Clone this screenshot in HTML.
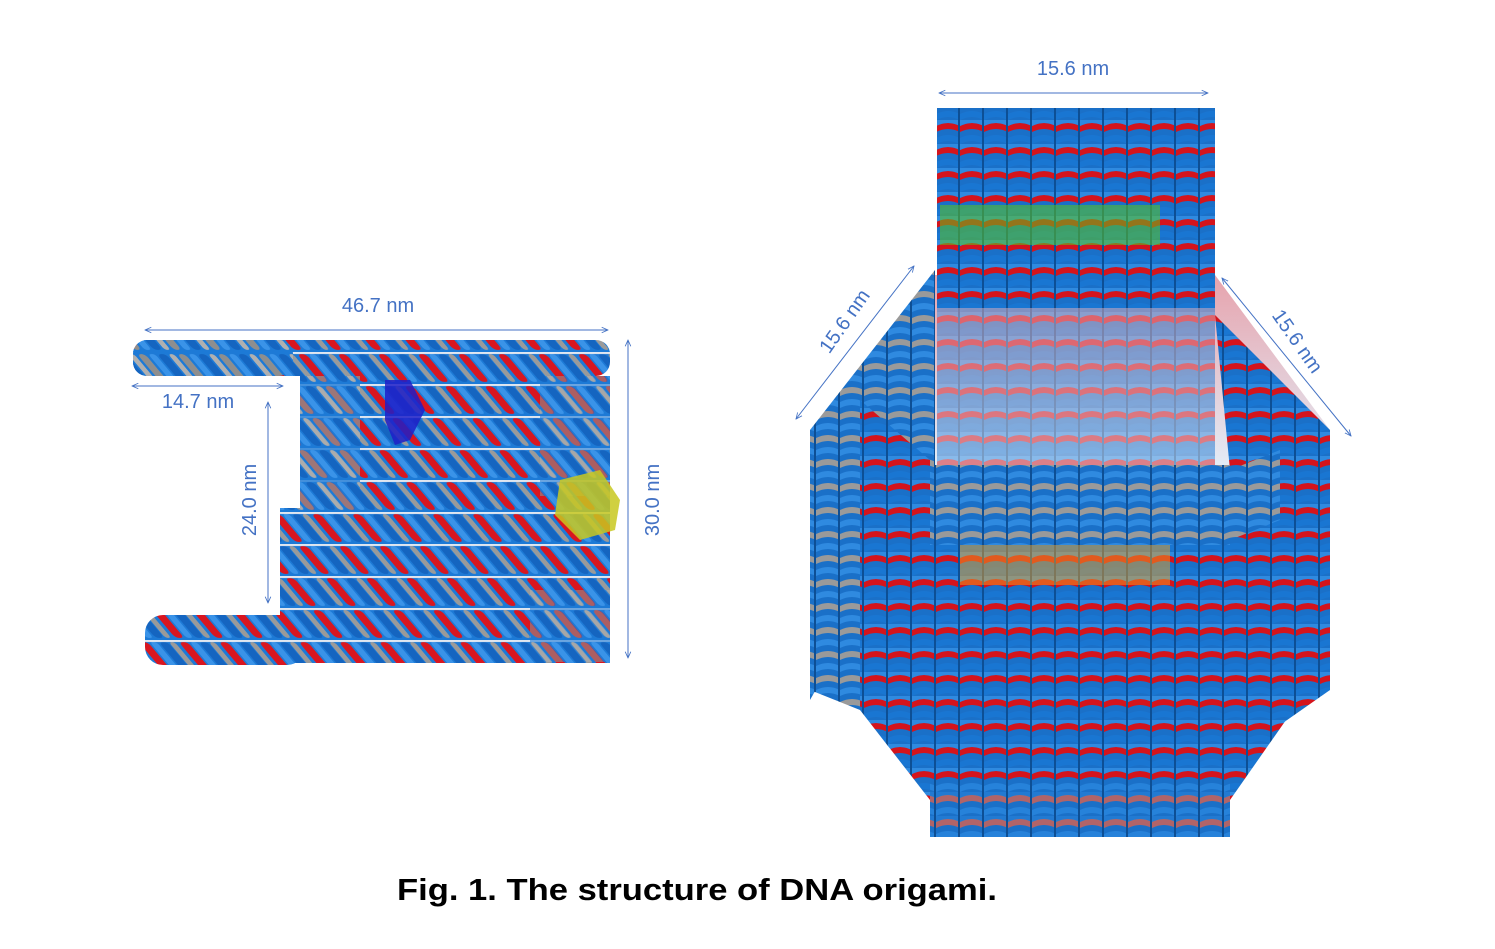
<!DOCTYPE html>
<html><head><meta charset="utf-8"><style>
html,body{margin:0;padding:0;background:#fff;width:1495px;height:949px;overflow:hidden}
</style></head><body>
<svg width="1495" height="949" viewBox="0 0 1495 949" xmlns="http://www.w3.org/2000/svg">
<defs>
<marker id="ah" viewBox="0 0 10 10" refX="9" refY="5" markerWidth="7" markerHeight="7" orient="auto-start-reverse"><path d="M0 1 L9 5 L0 9" fill="none" stroke="#4472c4" stroke-width="1.2"/></marker>
<pattern id="diag" width="40" height="32" patternUnits="userSpaceOnUse" patternTransform="skewX(40)">
<rect width="40" height="32" fill="#1d7ad6"/>
<rect x="0" y="2" width="9" height="28" rx="4" fill="#d81620"/>
<rect x="20" y="2" width="9" height="28" rx="4" fill="#1565c0"/>
<rect x="30" y="2" width="6" height="28" rx="3" fill="#9a9a9a"/>
<rect x="11" y="2" width="7" height="28" rx="3" fill="#3a93e8"/>
<rect y="0" width="40" height="2" fill="#dfe6f0"/>
</pattern>
<pattern id="diag2" width="40" height="32" patternUnits="userSpaceOnUse" patternTransform="skewX(40)">
<rect width="40" height="32" fill="#1d7ad6"/>
<rect x="0" y="2" width="8" height="28" rx="4" fill="#8e8e8e"/>
<rect x="20" y="2" width="9" height="28" rx="4" fill="#1565c0"/>
<rect x="11" y="2" width="7" height="28" rx="3" fill="#3a93e8"/>
<rect x="31" y="2" width="6" height="28" rx="3" fill="#b0b0b0"/>
</pattern>
<pattern id="col" width="24" height="24" patternUnits="userSpaceOnUse">
<rect width="24" height="24" fill="#1a70c8"/>
<path d="M0 6 Q12 0 24 6 L24 12 Q12 6 0 12Z" fill="#d4141c"/>
<path d="M0 18 Q12 12 24 18 L24 24 Q12 18 0 24Z" fill="#1976d2"/>
<path d="M0 0 Q12 -6 24 0 L24 6 Q12 0 0 6Z" fill="#2f8ae0"/>
<rect x="22" width="2" height="24" fill="#0d4f95"/>
</pattern>
<pattern id="colg" width="24" height="24" patternUnits="userSpaceOnUse">
<rect width="24" height="24" fill="#1a70c8"/>
<path d="M0 6 Q12 0 24 6 L24 12 Q12 6 0 12Z" fill="#9a9a9a"/>
<path d="M0 18 Q12 12 24 18 L24 24 Q12 18 0 24Z" fill="#2f8ae0"/>
<rect x="22" width="2" height="24" fill="#0d4f95"/>
</pattern>
<linearGradient id="inner" x1="0" y1="0" x2="0" y2="1">
<stop offset="0" stop-color="#e6a3ad"/><stop offset="1" stop-color="#e3eef8"/>
</linearGradient>
</defs>

<!-- LEFT STRUCTURE -->
<rect x="133" y="340" width="477" height="36" rx="14" fill="url(#diag)"/>
<rect x="133" y="340" width="160" height="36" rx="14" fill="url(#diag2)"/>
<rect x="300" y="376" width="310" height="136" fill="url(#diag)"/>
<rect x="280" y="508" width="330" height="155" fill="url(#diag)"/>
<rect x="145" y="615" width="160" height="50" rx="18" fill="url(#diag)"/>
<rect x="300" y="376" width="60" height="136" fill="url(#diag2)" opacity="0.8"/>
<rect x="540" y="376" width="70" height="120" fill="url(#diag2)" opacity="0.6"/>
<rect x="530" y="590" width="80" height="72" fill="url(#diag2)" opacity="0.6"/>
<path d="M385 380 L410 380 L425 410 L410 440 L395 445 L385 420Z" fill="#1f1fc8" opacity="0.85"/>
<path d="M560 480 L600 470 L620 500 L615 530 L580 540 L555 515Z" fill="#c8c820" opacity="0.85"/>

<!-- dimension lines -->
<g stroke="#4472c4" stroke-width="1" fill="none" marker-start="url(#ah)" marker-end="url(#ah)">
<line x1="145" y1="330" x2="608" y2="330"/>
<line x1="132" y1="386" x2="283" y2="386"/>
<line x1="268" y1="402" x2="268" y2="603"/>
<line x1="628" y1="340" x2="628" y2="658"/>
<line x1="939" y1="93" x2="1208" y2="93"/>
<line x1="914" y1="266" x2="796" y2="419"/>
<line x1="1222" y1="278" x2="1351" y2="436"/>
</g>
<g font-family="Liberation Sans, sans-serif" font-size="20" fill="#4472c4">
<text x="378" y="312" text-anchor="middle">46.7 nm</text>
<text x="198" y="408" text-anchor="middle">14.7 nm</text>
<text transform="translate(256,500) rotate(-90)" text-anchor="middle">24.0 nm</text>
<text transform="translate(659,500) rotate(-90)" text-anchor="middle">30.0 nm</text>
<text x="1073" y="75" text-anchor="middle">15.6 nm</text>
<text transform="translate(850,325) rotate(-55)" text-anchor="middle">15.6 nm</text>
<text transform="translate(1292,345) rotate(55)" text-anchor="middle">15.6 nm</text>
</g>

<!-- RIGHT STRUCTURE -->
<polygon points="935,275 1215,275 1330,430 1230,470 930,470 810,430" fill="url(#inner)"/>
<rect x="937" y="108" width="278" height="200" fill="url(#col)"/>
<rect x="937" y="300" width="278" height="170" fill="url(#col)" opacity="0.5"/>
<rect x="940" y="205" width="220" height="40" fill="#5cc41c" opacity="0.55"/>
<polygon points="810,430 935,270 935,480 810,700" fill="url(#colg)"/>
<polygon points="1215,315 1330,430 1330,690 1230,760 1230,470" fill="url(#col)"/>
<polygon points="810,430 860,400 860,710 810,690" fill="url(#colg)"/>
<polygon points="860,400 930,460 930,800 860,710" fill="url(#col)"/>
<rect x="930" y="465" width="300" height="372" fill="url(#col)"/>
<rect x="930" y="465" width="300" height="80" fill="url(#colg)"/>
<rect x="960" y="545" width="210" height="40" fill="#f0a020" opacity="0.5"/>
<polygon points="1230,470 1330,430 1330,690 1300,700 1230,800" fill="url(#col)"/>
<polygon points="1230,470 1280,450 1280,520 1230,540" fill="url(#colg)"/>
<rect x="930" y="780" width="300" height="57" fill="url(#colg)" opacity="0.6"/>

<text x="697" y="900" text-anchor="middle" font-family="Liberation Sans, sans-serif" font-weight="bold" font-size="31" fill="#000" textLength="600" lengthAdjust="spacingAndGlyphs">Fig. 1. The structure of DNA origami.</text>
</svg>
</body></html>
